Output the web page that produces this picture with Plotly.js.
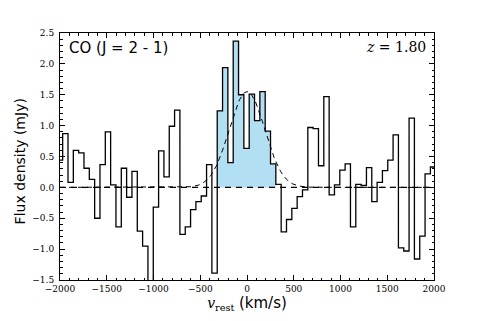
<!DOCTYPE html>
<html lang="en">
<head>
  <meta charset="UTF-8">
  <title>CO (J = 2 - 1) spectrum</title>
  <script src="https://cdn.plot.ly/plotly-3.0.1.min.js"></script>
  <style>
    body { margin: 0; background: white; }
    #chart { width: 482px; height: 321px; }
  </style>
</head>
<body>
  <div id="chart"></div>
  <script>
    // Channel centres (km/s) and flux density (mJy)
    const velocity = [
      -2000, -1943, -1886, -1829, -1772, -1715, -1658, -1601, -1544, -1487,
      -1430, -1373, -1316, -1259, -1202, -1145, -1088, -1031, -974, -917,
      -860, -803, -746, -689, -632, -575, -518, -461, -404, -347,
      -290, -233, -176, -119, -62, -5, 52, 109, 166, 223,
      280, 337, 394, 451, 508, 565, 622, 679, 736, 793,
      850, 907, 964, 1021, 1078, 1135, 1192, 1249, 1306, 1363,
      1420, 1477, 1534, 1591, 1648, 1705, 1762, 1819, 1876, 1933, 1990
    ];
    const flux = [
      0.44, 0.87, 0.08, 0.60, 0.56, 0.31, 0.13, -0.50, 0.37, 0.90,
      0.04, -0.64, 0.31, -0.16, 0.26, -0.71, -0.95, -1.80, -0.32, 0.59,
      0.17, 0.99, 1.25, -0.76, -0.64, -0.36, -0.23, -0.14, 0.37, -1.39,
      1.24, 1.94, 0.40, 2.37, 1.50, 0.63, 1.51, 1.08, 1.55, 0.91,
      0.38, 0.05, -0.72, -0.52, -0.34, -0.15, -0.04, 0.97, 0.95, 0.35,
      1.47, -0.12, 0.04, 0.28, 0.38, -0.64, 0.05, 0.03, 0.32, -0.23,
      0.08, 0.27, 0.44, 0.85, -0.98, -1.03, 1.12, -1.16, -0.79, 0.22, 0.33
    ];
    const binWidth = 57;
    // channels inside the line window (shaded)
    const lineFirst = 30, lineLast = 40;

    // Gaussian fit
    const gaussAmp = 1.55, gaussCen = 0, gaussSigma = 190;

    // step edges
    const edges = velocity.map(v => v - binWidth / 2);
    const stepX = edges.concat([velocity[velocity.length - 1] + binWidth / 2]);
    const stepY = flux.concat([flux[flux.length - 1]]);

    const fillX = edges.slice(lineFirst, lineLast + 1).concat([velocity[lineLast] + binWidth / 2]);
    const fillY = flux.slice(lineFirst, lineLast + 1).concat([flux[lineLast]]);

    const gx = [], gy = [];
    for (let v = -2000; v <= 2000; v += 10) {
      gx.push(v);
      gy.push(gaussAmp * Math.exp(-Math.pow(v - gaussCen, 2) / (2 * gaussSigma * gaussSigma)));
    }

    const traces = [
      {
        x: fillX, y: fillY, type: "scatter", mode: "lines",
        line: { shape: "hv", width: 0, color: "#b2dff2" },
        fill: "tozeroy", fillcolor: "#b2dff2", hoverinfo: "skip"
      },
      {
        x: [-2000, 2000], y: [0, 0], type: "scatter", mode: "lines",
        line: { color: "black", width: 1.2, dash: "6px,5px" }
      },
      {
        x: gx, y: gy, type: "scatter", mode: "lines",
        line: { color: "black", width: 1, dash: "5px,4px" }
      },
      {
        x: stepX, y: stepY, type: "scatter", mode: "lines",
        line: { shape: "hv", color: "black", width: 1.3 }
      }
    ];

    const serif = "DejaVu Serif, Liberation Serif, serif";
    const sans = "DejaVu Sans, sans-serif";

    const layout = {
      width: 482, height: 321,
      margin: { l: 60, r: 48, t: 33, b: 41 },
      paper_bgcolor: "white", plot_bgcolor: "white",
      showlegend: false,
      xaxis: {
        range: [-2000, 2000], dtick: 500, tick0: 0,
        ticks: "inside", ticklen: 5, tickcolor: "black",
        minor: { dtick: 100, ticks: "inside", ticklen: 2.5, tickcolor: "black" },
        showline: true, mirror: "allticks", linecolor: "black", linewidth: 1,
        showgrid: false, zeroline: false,
        tickfont: { family: serif, size: 9, color: "black" },
        title: {
          text: "<i>v</i><sub>rest</sub> <span style=\"font-family:DejaVu Sans;font-size:15px\">(km/s)</span>",
          font: { family: serif, size: 14, color: "black" }, standoff: 4
        }
      },
      yaxis: {
        range: [-1.5, 2.5], dtick: 0.5, tick0: 0, tickformat: ".1f",
        ticks: "inside", ticklen: 5, tickcolor: "black", ticklabelstandoff: 3,
        minor: { dtick: 0.1, ticks: "inside", ticklen: 2.5, tickcolor: "black" },
        showline: true, mirror: "allticks", linecolor: "black", linewidth: 1,
        showgrid: false, zeroline: false,
        tickfont: { family: serif, size: 9, color: "black" }
      },
      annotations: [
        {
          xref: "paper", yref: "paper", x: -0.107, y: 0.48, xanchor: "center", yanchor: "middle",
          text: "Flux density (mJy)", textangle: -90, showarrow: false,
          font: { family: sans, size: 14, color: "black" }
        },
        {
          xref: "paper", yref: "paper", x: 0.02, y: 0.985, xanchor: "left", yanchor: "top",
          text: "CO (J = 2 - 1)", showarrow: false,
          font: { family: sans, size: 15, color: "black" }
        },
        {
          xref: "paper", yref: "paper", x: 0.985, y: 0.985, xanchor: "right", yanchor: "top",
          text: "<i>z</i> = 1.80", showarrow: false,
          font: { family: serif, size: 14, color: "black" }
        }
      ]
    };

    Plotly.newPlot("chart", traces, layout, { displayModeBar: false, staticPlot: true });
  </script>
</body>
</html>
